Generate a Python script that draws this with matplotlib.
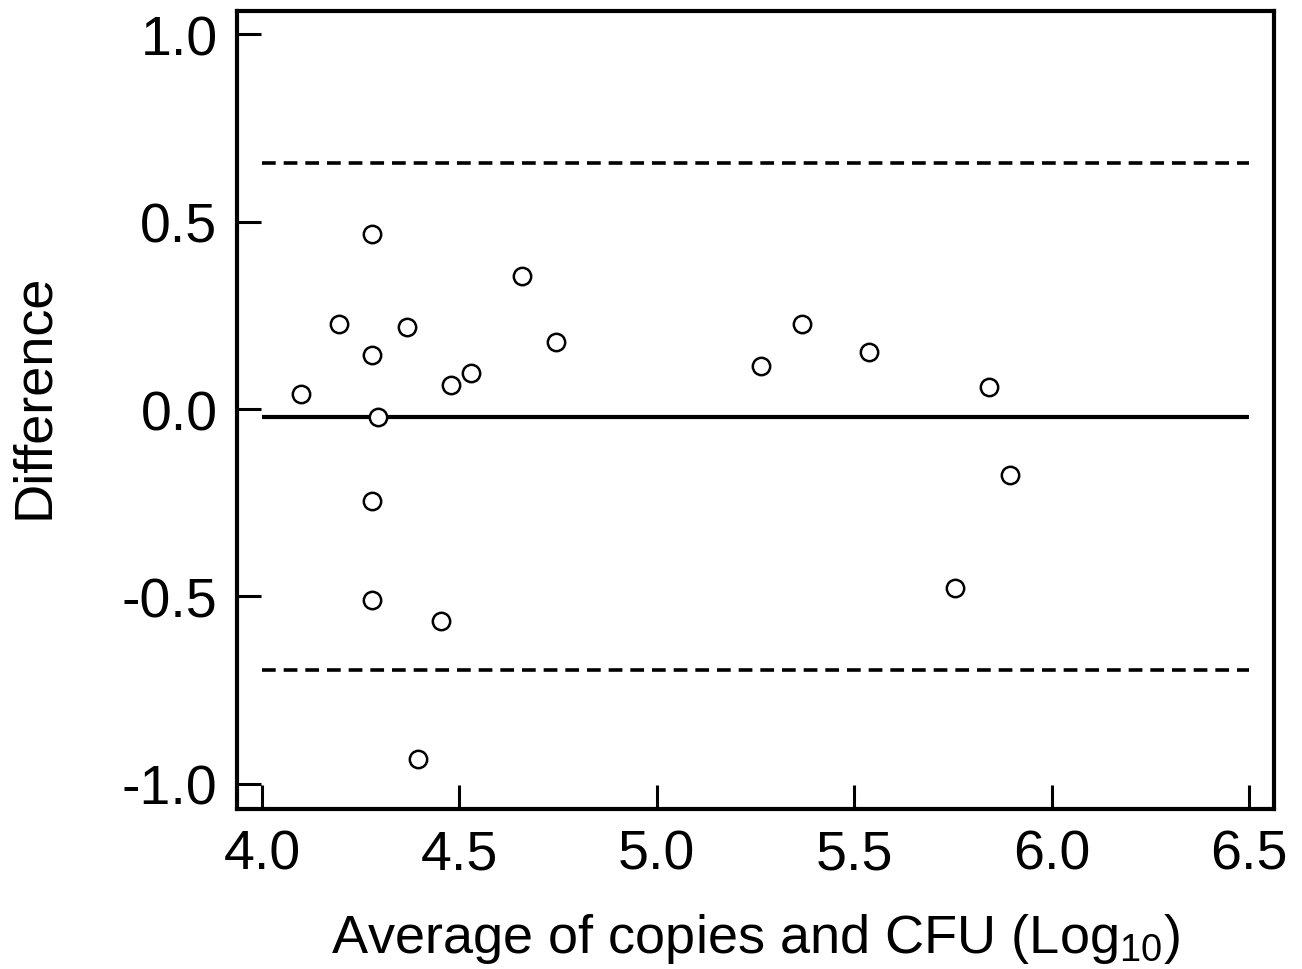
import matplotlib
matplotlib.use("Agg")
import matplotlib.pyplot as plt
import numpy as np

# Bland-Altman data: average of log10 copies and CFU vs difference
avg = [4.10, 4.195, 4.278, 4.278, 4.294, 4.278, 4.278, 4.367, 4.395, 4.453,
       4.478, 4.529, 4.658, 4.746, 5.265, 5.369, 5.538, 5.754, 5.842, 5.895]
diff = [0.041, 0.226, 0.466, 0.143, -0.020, -0.244, -0.509, 0.220, -0.933, -0.565,
        0.063, 0.095, 0.356, 0.180, 0.116, 0.226, 0.151, -0.477, 0.060, -0.175]
mean_diff = -0.020
upper_loa = 0.656
lower_loa = -0.696
xticks = [4.0, 4.5, 5.0, 5.5, 6.0, 6.5]
yticks = [-1.0, -0.5, 0.0, 0.5, 1.0]

plt.rcParams['font.family'] = ['Liberation Sans', 'DejaVu Sans']
plt.rcParams['mathtext.fontset'] = 'custom'
plt.rcParams['mathtext.rm'] = 'Liberation Sans'

fig = plt.figure(figsize=(13.02, 9.70), dpi=100)
ax = fig.add_axes([237 / 1302, 1 - 810 / 970, (1274 - 237) / 1302, (810 - 12) / 970])

ax.hlines(mean_diff, 4.0, 6.5, colors='black', linewidth=3)
ax.hlines([upper_loa, lower_loa], 4.0, 6.5, colors='black', linewidth=2.6,
          linestyles=(0, (3.8, 2.2)))
ax.plot(avg, diff, 'o', markerfacecolor='white', markeredgecolor='black',
        markersize=12.5, markeredgewidth=1.8, linestyle='none', zorder=3)

ax.set_xlim(3.937, 6.563)
ax.set_ylim(-1.067, 1.062)
ax.set_xticks(xticks)
ax.set_yticks(yticks)
ax.set_xticklabels(['%.1f' % v for v in xticks])
ax.set_yticklabels(['%.1f' % v for v in yticks])
ax.tick_params(direction='in', length=17, width=2.2, labelsize=40, pad=14)
for s in ax.spines.values():
    s.set_linewidth(3)

ax.set_xlabel('Average of copies and CFU (Log$_{10}$)', fontsize=39, labelpad=22)
ax.set_ylabel('Difference', fontsize=39)
ax.yaxis.set_label_coords(-0.172, 0.518)

fig.savefig('out.png', dpi=100)
